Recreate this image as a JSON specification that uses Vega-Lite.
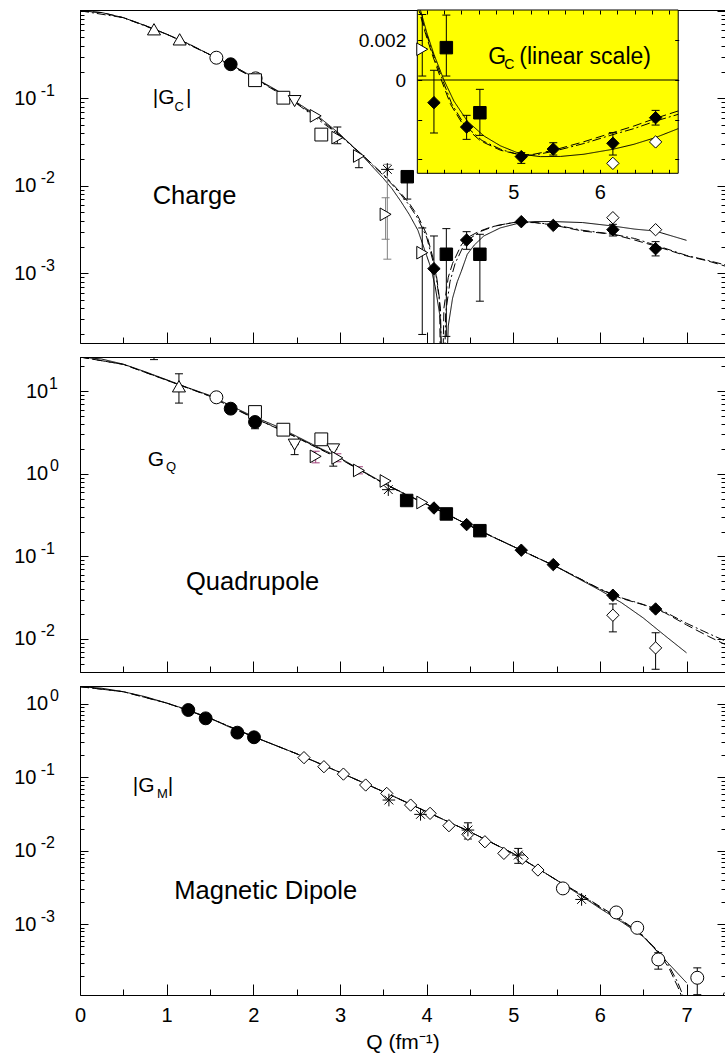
{
"$schema":"https://vega.github.io/schema/vega-lite/v6.json",
"padding":{"left":5,"top":9,"right":0,"bottom":0},
"background":"white",
"spacing":12,
"datasets":{
"p1c":[
{"Q":0,"v":1.0,"model":"solid"},{"Q":0.25,"v":0.955,"model":"solid"},{"Q":0.5,"v":0.835,"model":"solid"},{"Q":0.75,"v":0.68,"model":"solid"},{"Q":1,"v":0.54,"model":"solid"},{"Q":1.25,"v":0.42,"model":"solid"},{"Q":1.5,"v":0.315,"model":"solid"},{"Q":1.75,"v":0.24,"model":"solid"},{"Q":2,"v":0.175,"model":"solid"},{"Q":2.25,"v":0.127,"model":"solid"},{"Q":2.5,"v":0.09,"model":"solid"},{"Q":2.75,"v":0.062,"model":"solid"},{"Q":3,"v":0.039,"model":"solid"},{"Q":3.25,"v":0.0225,"model":"solid"},{"Q":3.5,"v":0.0122,"model":"solid"},{"Q":3.6,"v":0.0093,"model":"solid"},{"Q":3.7,"v":0.0067,"model":"solid"},{"Q":3.8,"v":0.0047,"model":"solid"},{"Q":3.9,"v":0.0031,"model":"solid"},{"Q":4,"v":0.0016,"model":"solid"},{"Q":4.05,"v":0.00115,"model":"solid"},{"Q":4.1,"v":0.0007,"model":"solid"},{"Q":4.16,"v":0.0003,"model":"solid"},{"Q":4.2,"v":0.00001,"model":"solid"},{"Q":4.25,"v":0.00025,"model":"solid"},{"Q":4.3,"v":0.00052,"model":"solid"},{"Q":4.354,"v":0.0008,"model":"solid"},{"Q":4.4,"v":0.00105,"model":"solid"},{"Q":4.47,"v":0.00165,"model":"solid"},{"Q":4.55,"v":0.0021,"model":"solid"},{"Q":4.66,"v":0.00267,"model":"solid"},{"Q":4.85,"v":0.0033,"model":"solid"},{"Q":5.09,"v":0.0038,"model":"solid"},{"Q":5.25,"v":0.0039,"model":"solid"},{"Q":5.46,"v":0.0039,"model":"solid"},{"Q":5.8,"v":0.0038,"model":"solid"},{"Q":6.15,"v":0.00347,"model":"solid"},{"Q":6.4,"v":0.0032,"model":"solid"},{"Q":6.64,"v":0.00304,"model":"solid"},{"Q":7,"v":0.00238,"model":"solid"},
{"Q":0,"v":1.0,"model":"dashed"},{"Q":0.25,"v":0.955,"model":"dashed"},{"Q":0.5,"v":0.835,"model":"dashed"},{"Q":0.75,"v":0.68,"model":"dashed"},{"Q":1,"v":0.54,"model":"dashed"},{"Q":1.25,"v":0.42,"model":"dashed"},{"Q":1.5,"v":0.315,"model":"dashed"},{"Q":1.75,"v":0.24,"model":"dashed"},{"Q":2,"v":0.173,"model":"dashed"},{"Q":2.25,"v":0.125,"model":"dashed"},{"Q":2.5,"v":0.088,"model":"dashed"},{"Q":2.75,"v":0.06,"model":"dashed"},{"Q":3,"v":0.038,"model":"dashed"},{"Q":3.25,"v":0.023,"model":"dashed"},{"Q":3.5,"v":0.0135,"model":"dashed"},{"Q":3.6,"v":0.0107,"model":"dashed"},{"Q":3.7,"v":0.0083,"model":"dashed"},{"Q":3.8,"v":0.0063,"model":"dashed"},{"Q":3.9,"v":0.0045,"model":"dashed"},{"Q":4,"v":0.0028,"model":"dashed"},{"Q":4.1,"v":0.0012,"model":"dashed"},{"Q":4.15,"v":0.0005,"model":"dashed"},{"Q":4.17,"v":0.00001,"model":"dashed"},{"Q":4.2,"v":0.0004,"model":"dashed"},{"Q":4.25,"v":0.0009,"model":"dashed"},{"Q":4.3,"v":0.0013,"model":"dashed"},{"Q":4.4,"v":0.0021,"model":"dashed"},{"Q":4.47,"v":0.00255,"model":"dashed"},{"Q":4.6,"v":0.003,"model":"dashed"},{"Q":4.75,"v":0.0034,"model":"dashed"},{"Q":5,"v":0.0038,"model":"dashed"},{"Q":5.25,"v":0.0038,"model":"dashed"},{"Q":5.46,"v":0.00356,"model":"dashed"},{"Q":5.8,"v":0.00304,"model":"dashed"},{"Q":6.15,"v":0.00279,"model":"dashed"},{"Q":6.4,"v":0.0024,"model":"dashed"},{"Q":6.64,"v":0.00205,"model":"dashed"},{"Q":7,"v":0.00158,"model":"dashed"},{"Q":7.25,"v":0.00138,"model":"dashed"},{"Q":7.444,"v":0.00121,"model":"dashed"},
{"Q":0,"v":1.0,"model":"dashdot"},{"Q":0.5,"v":0.835,"model":"dashdot"},{"Q":1,"v":0.54,"model":"dashdot"},{"Q":1.5,"v":0.315,"model":"dashdot"},{"Q":2,"v":0.172,"model":"dashdot"},{"Q":2.5,"v":0.087,"model":"dashdot"},{"Q":3,"v":0.0375,"model":"dashdot"},{"Q":3.25,"v":0.0228,"model":"dashdot"},{"Q":3.5,"v":0.0132,"model":"dashdot"},{"Q":3.6,"v":0.0104,"model":"dashdot"},{"Q":3.7,"v":0.008,"model":"dashdot"},{"Q":3.8,"v":0.006,"model":"dashdot"},{"Q":3.9,"v":0.0042,"model":"dashdot"},{"Q":4,"v":0.0026,"model":"dashdot"},{"Q":4.1,"v":0.0011,"model":"dashdot"},{"Q":4.16,"v":0.0004,"model":"dashdot"},{"Q":4.19,"v":0.00001,"model":"dashdot"},{"Q":4.22,"v":0.00035,"model":"dashdot"},{"Q":4.27,"v":0.0008,"model":"dashdot"},{"Q":4.33,"v":0.0013,"model":"dashdot"},{"Q":4.42,"v":0.002,"model":"dashdot"},{"Q":4.5,"v":0.0025,"model":"dashdot"},{"Q":4.62,"v":0.003,"model":"dashdot"},{"Q":4.8,"v":0.0035,"model":"dashdot"},{"Q":5,"v":0.0038,"model":"dashdot"},{"Q":5.25,"v":0.0038,"model":"dashdot"},{"Q":5.46,"v":0.0036,"model":"dashdot"},{"Q":5.8,"v":0.0031,"model":"dashdot"},{"Q":6.15,"v":0.0028,"model":"dashdot"},{"Q":6.4,"v":0.0025,"model":"dashdot"},{"Q":6.64,"v":0.0021,"model":"dashdot"},{"Q":7,"v":0.0016,"model":"dashdot"},{"Q":7.25,"v":0.0014,"model":"dashdot"},{"Q":7.444,"v":0.00125,"model":"dashdot"}
],
"p1p":[
{"Q":0.854,"v":0.615,"set":"tri_up"},{"Q":1.15,"v":0.472,"set":"tri_up"},{"Q":1.574,"v":0.291,"set":"circ_open"},{"Q":1.739,"v":0.245,"set":"circ_fill"},{"Q":2.027,"v":0.169,"set":"circ_open"},{"Q":2.02,"v":0.161,"set":"sq_open"},{"Q":2.347,"v":0.1016,"set":"sq_open"},{"Q":2.477,"v":0.093,"set":"tri_down"},{"Q":2.72,"v":0.063,"set":"tri_right"},{"Q":2.785,"v":0.0385,"set":"sq_open"},
{"Q":2.97,"v":0.0355,"set":"tri_right","lo":0.0303,"hi":0.047,"errset":"a"},
{"Q":3.219,"v":0.0219,"set":"tri_right","lo":0.0161,"hi":0.0219,"errset":"a"},
{"Q":3.547,"v":0.0154,"set":"star","lo":0.00145,"hi":0.0176,"errset":"b"},
{"Q":3.527,"v":0.00472,"set":"tri_right","lo":0.00245,"hi":0.0073,"errset":"b"},
{"Q":3.777,"v":0.0127,"set":"sq_fill","lo":0.00705,"hi":0.0127,"errset":"a"},
{"Q":3.95,"v":0.00172,"set":"tri_right","lo":0.0002,"hi":0.0033,"errset":"a"},
{"Q":4.085,"v":0.00113,"set":"dia_fill","lo":0.000001,"hi":0.00267,"errset":"a"},
{"Q":4.228,"v":0.00165,"set":"sq_fill","lo":0.00019,"hi":0.00324,"errset":"a"},
{"Q":4.462,"v":0.0024,"set":"dia_fill","lo":0.00188,"hi":0.00299,"errset":"a"},
{"Q":4.615,"v":0.00165,"set":"sq_fill","lo":0.00048,"hi":0.00279,"errset":"a"},
{"Q":5.093,"v":0.00389,"set":"dia_fill"},{"Q":5.462,"v":0.00353,"set":"dia_fill"},{"Q":6.15,"v":0.00432,"set":"dia_open"},
{"Q":6.15,"v":0.00315,"set":"dia_fill","lo":0.00267,"hi":0.00363,"errset":"a"},
{"Q":6.643,"v":0.00315,"set":"dia_open"},
{"Q":6.643,"v":0.00191,"set":"dia_fill","lo":0.00158,"hi":0.0023,"errset":"a"}
],
"p1t":[
{"Q":0.839,"v":0.0854,"txt":"|G","kind":"main"},{"Q":1.0906,"v":0.0716,"txt":"C","kind":"sub"},{"Q":1.2233,"v":0.0854,"txt":"|","kind":"main"},{"Q":0.839,"v":0.00615,"txt":"Charge","kind":"big"}
],
"inc":[
{"Q":3.893,"v":0.0040,"model":"solid"},{"Q":3.93,"v":0.00351,"model":"solid"},{"Q":4.008,"v":0.0023,"model":"solid"},{"Q":4.085,"v":0.00129,"model":"solid"},{"Q":4.2,"v":0.0,"model":"solid"},{"Q":4.315,"v":-0.00106,"model":"solid"},{"Q":4.47,"v":-0.00207,"model":"solid"},{"Q":4.662,"v":-0.00282,"model":"solid"},{"Q":4.854,"v":-0.00332,"model":"solid"},{"Q":5.092,"v":-0.00374,"model":"solid"},{"Q":5.315,"v":-0.00386,"model":"solid"},{"Q":5.546,"v":-0.00385,"model":"solid"},{"Q":5.815,"v":-0.00374,"model":"solid"},{"Q":6.15,"v":-0.00349,"model":"solid"},{"Q":6.392,"v":-0.00324,"model":"solid"},{"Q":6.642,"v":-0.0029,"model":"solid"},{"Q":6.904,"v":-0.00245,"model":"solid"},
{"Q":3.893,"v":0.0038,"model":"dashed"},{"Q":3.912,"v":0.00351,"model":"dashed"},{"Q":3.99,"v":0.0023,"model":"dashed"},{"Q":4.065,"v":0.00129,"model":"dashed"},{"Q":4.17,"v":0.0,"model":"dashed"},{"Q":4.277,"v":-0.00123,"model":"dashed"},{"Q":4.43,"v":-0.00232,"model":"dashed"},{"Q":4.623,"v":-0.00307,"model":"dashed"},{"Q":4.854,"v":-0.00354,"model":"dashed"},{"Q":5.092,"v":-0.00378,"model":"dashed"},{"Q":5.238,"v":-0.00374,"model":"dashed"},{"Q":5.462,"v":-0.00354,"model":"dashed"},{"Q":5.815,"v":-0.00311,"model":"dashed"},{"Q":6.15,"v":-0.00265,"model":"dashed"},{"Q":6.392,"v":-0.00232,"model":"dashed"},{"Q":6.642,"v":-0.00193,"model":"dashed"},{"Q":6.904,"v":-0.00156,"model":"dashed"},
{"Q":3.893,"v":0.0040,"model":"dashdot"},{"Q":3.92,"v":0.0035,"model":"dashdot"},{"Q":4.0,"v":0.0023,"model":"dashdot"},{"Q":4.075,"v":0.0013,"model":"dashdot"},{"Q":4.185,"v":0.0,"model":"dashdot"},{"Q":4.29,"v":-0.0012,"model":"dashdot"},{"Q":4.44,"v":-0.00228,"model":"dashdot"},{"Q":4.64,"v":-0.00305,"model":"dashdot"},{"Q":4.87,"v":-0.00352,"model":"dashdot"},{"Q":5.1,"v":-0.0038,"model":"dashdot"},{"Q":5.25,"v":-0.00377,"model":"dashdot"},{"Q":5.46,"v":-0.0036,"model":"dashdot"},{"Q":5.815,"v":-0.0032,"model":"dashdot"},{"Q":6.15,"v":-0.00275,"model":"dashdot"},{"Q":6.392,"v":-0.00245,"model":"dashdot"},{"Q":6.642,"v":-0.00207,"model":"dashdot"},{"Q":6.904,"v":-0.00173,"model":"dashdot"}
],
"inp":[
{"Q":3.95,"v":0.00155,"set":"tri_right","lo":0.0002,"hi":0.0033,"errset":"a"},
{"Q":4.228,"v":0.00163,"set":"sq_fill","lo":0.0002,"hi":0.00327,"errset":"a"},
{"Q":4.085,"v":-0.00114,"set":"dia_fill","lo":-0.00267,"hi":0.00049,"errset":"a"},
{"Q":4.462,"v":-0.00237,"set":"dia_fill","lo":-0.00299,"hi":-0.00178,"errset":"a"},
{"Q":4.615,"v":-0.00165,"set":"sq_fill","lo":-0.00279,"hi":-0.00047,"errset":"a"},
{"Q":5.093,"v":-0.00386,"set":"dia_fill","lo":-0.0042,"hi":-0.00366,"errset":"a"},
{"Q":5.462,"v":-0.00348,"set":"dia_fill","lo":-0.00378,"hi":-0.00316,"errset":"a"},
{"Q":6.15,"v":-0.00319,"set":"dia_fill","lo":-0.00378,"hi":-0.00265,"errset":"a"},
{"Q":6.15,"v":-0.0042,"set":"dia_open"},
{"Q":6.643,"v":-0.0019,"set":"dia_fill","lo":-0.00227,"hi":-0.00153,"errset":"a"},
{"Q":6.643,"v":-0.00312,"set":"dia_open"}
],
"int":[
{"Q":4.712,"v":0.000791,"txt":"G","kind":"main"},{"Q":4.897,"v":0.000539,"txt":"C","kind":"sub"},{"Q":5.07,"v":0.000791,"txt":"(linear scale)","kind":"main"}
],
"p2c":[
{"Q":0,"v":26.0,"model":"solid"},{"Q":0.25,"v":24.6,"model":"solid"},{"Q":0.5,"v":21.3,"model":"solid"},{"Q":0.75,"v":17.3,"model":"solid"},{"Q":1,"v":13.8,"model":"solid"},{"Q":1.25,"v":11.0,"model":"solid"},{"Q":1.5,"v":8.9,"model":"solid"},{"Q":1.75,"v":6.6,"model":"solid"},{"Q":2,"v":4.95,"model":"solid"},{"Q":2.25,"v":3.85,"model":"solid"},{"Q":2.5,"v":2.85,"model":"solid"},{"Q":2.75,"v":2.1,"model":"solid"},{"Q":3,"v":1.56,"model":"solid"},{"Q":3.25,"v":1.1,"model":"solid"},{"Q":3.5,"v":0.78,"model":"solid"},{"Q":3.75,"v":0.57,"model":"solid"},{"Q":4,"v":0.43,"model":"solid"},{"Q":4.25,"v":0.32,"model":"solid"},{"Q":4.5,"v":0.235,"model":"solid"},{"Q":4.75,"v":0.175,"model":"solid"},{"Q":5,"v":0.132,"model":"solid"},{"Q":5.25,"v":0.099,"model":"solid"},{"Q":5.5,"v":0.075,"model":"solid"},{"Q":5.75,"v":0.054,"model":"solid"},{"Q":6,"v":0.039,"model":"solid"},{"Q":6.25,"v":0.0275,"model":"solid"},{"Q":6.5,"v":0.018,"model":"solid"},{"Q":6.75,"v":0.011,"model":"solid"},{"Q":7,"v":0.0068,"model":"solid"},
{"Q":0,"v":26.0,"model":"dashed"},{"Q":0.5,"v":21.2,"model":"dashed"},{"Q":1,"v":13.6,"model":"dashed"},{"Q":1.25,"v":10.9,"model":"dashed"},{"Q":1.5,"v":8.7,"model":"dashed"},{"Q":1.75,"v":6.4,"model":"dashed"},{"Q":2,"v":4.75,"model":"dashed"},{"Q":2.25,"v":3.7,"model":"dashed"},{"Q":2.5,"v":2.75,"model":"dashed"},{"Q":2.75,"v":2.03,"model":"dashed"},{"Q":3,"v":1.52,"model":"dashed"},{"Q":3.25,"v":1.08,"model":"dashed"},{"Q":3.5,"v":0.77,"model":"dashed"},{"Q":3.75,"v":0.565,"model":"dashed"},{"Q":4,"v":0.43,"model":"dashed"},{"Q":4.25,"v":0.32,"model":"dashed"},{"Q":4.5,"v":0.235,"model":"dashed"},{"Q":4.75,"v":0.175,"model":"dashed"},{"Q":5,"v":0.132,"model":"dashed"},{"Q":5.25,"v":0.099,"model":"dashed"},{"Q":5.5,"v":0.075,"model":"dashed"},{"Q":5.75,"v":0.055,"model":"dashed"},{"Q":6,"v":0.04,"model":"dashed"},{"Q":6.25,"v":0.031,"model":"dashed"},{"Q":6.5,"v":0.026,"model":"dashed"},{"Q":6.75,"v":0.0208,"model":"dashed"},{"Q":7,"v":0.0148,"model":"dashed"},{"Q":7.25,"v":0.0108,"model":"dashed"},{"Q":7.444,"v":0.0086,"model":"dashed"},
{"Q":0,"v":26.0,"model":"dashdot"},{"Q":0.5,"v":21.2,"model":"dashdot"},{"Q":1,"v":13.7,"model":"dashdot"},{"Q":1.5,"v":8.75,"model":"dashdot"},{"Q":2,"v":4.8,"model":"dashdot"},{"Q":2.5,"v":2.78,"model":"dashdot"},{"Q":3,"v":1.53,"model":"dashdot"},{"Q":3.5,"v":0.77,"model":"dashdot"},{"Q":4,"v":0.43,"model":"dashdot"},{"Q":4.5,"v":0.235,"model":"dashdot"},{"Q":5,"v":0.132,"model":"dashdot"},{"Q":5.5,"v":0.075,"model":"dashdot"},{"Q":6,"v":0.0405,"model":"dashdot"},{"Q":6.25,"v":0.0315,"model":"dashdot"},{"Q":6.5,"v":0.0262,"model":"dashdot"},{"Q":6.75,"v":0.0213,"model":"dashdot"},{"Q":7,"v":0.0155,"model":"dashdot"},{"Q":7.25,"v":0.0117,"model":"dashdot"},{"Q":7.444,"v":0.0095,"model":"dashdot"}
],
"p2p":[
{"Q":0.854,"v":36,"set":"tri_up","lo":24.2,"hi":50,"errset":"a"},
{"Q":1.142,"v":11.5,"set":"tri_up","lo":7.2,"hi":16.3,"errset":"a"},
{"Q":1.574,"v":8.46,"set":"circ_open"},{"Q":1.739,"v":6.16,"set":"circ_fill"},{"Q":2.02,"v":5.61,"set":"sq_open"},
{"Q":2.02,"v":4.25,"set":"circ_fill","lo":3.52,"hi":4.84,"errset":"a"},
{"Q":2.347,"v":3.43,"set":"sq_open"},
{"Q":2.477,"v":2.26,"set":"tri_down","lo":1.71,"hi":2.26,"errset":"a"},
{"Q":2.72,"v":1.63,"set":"tri_right","lo":1.36,"hi":1.88,"errset":"c"},
{"Q":2.785,"v":2.62,"set":"sq_open"},
{"Q":2.923,"v":1.98,"set":"tri_down","lo":1.24,"hi":1.98,"errset":"a"},
{"Q":2.97,"v":1.56,"set":"tri_right","lo":1.4,"hi":1.75,"errset":"c"},
{"Q":3.219,"v":1.1,"set":"tri_right","lo":1.0,"hi":1.22,"errset":"c"},
{"Q":3.527,"v":0.82,"set":"tri_right"},{"Q":3.558,"v":0.644,"set":"star"},{"Q":3.77,"v":0.476,"set":"sq_fill"},{"Q":3.95,"v":0.45,"set":"tri_right"},{"Q":4.085,"v":0.386,"set":"dia_fill"},{"Q":4.228,"v":0.327,"set":"sq_fill"},{"Q":4.462,"v":0.243,"set":"dia_fill"},{"Q":4.615,"v":0.205,"set":"sq_fill"},{"Q":5.093,"v":0.119,"set":"dia_fill"},{"Q":5.462,"v":0.0796,"set":"dia_fill"},
{"Q":6.15,"v":0.0339,"set":"dia_fill","lo":0.0312,"hi":0.0362,"errset":"a"},
{"Q":6.15,"v":0.0194,"set":"dia_open","lo":0.0122,"hi":0.0266,"errset":"a"},
{"Q":6.643,"v":0.0231,"set":"dia_fill","lo":0.0216,"hi":0.0247,"errset":"a"},
{"Q":6.643,"v":0.0078,"set":"dia_open","lo":0.0043,"hi":0.0119,"errset":"a"}
],
"p2t":[
{"Q":0.781,"v":1.235,"txt":"G","kind":"main"},{"Q":0.9925,"v":1.083,"txt":"Q","kind":"sub"},{"Q":1.2233,"v":0.03868,"txt":"Quadrupole","kind":"big"}
],
"p3c":[
{"Q":0,"v":1.72,"model":"solid"},{"Q":0.25,"v":1.64,"model":"solid"},{"Q":0.5,"v":1.47,"model":"solid"},{"Q":0.75,"v":1.26,"model":"solid"},{"Q":1,"v":1.03,"model":"solid"},{"Q":1.25,"v":0.83,"model":"solid"},{"Q":1.5,"v":0.64,"model":"solid"},{"Q":1.75,"v":0.47,"model":"solid"},{"Q":2,"v":0.36,"model":"solid"},{"Q":2.25,"v":0.275,"model":"solid"},{"Q":2.5,"v":0.21,"model":"solid"},{"Q":2.75,"v":0.158,"model":"solid"},{"Q":3,"v":0.117,"model":"solid"},{"Q":3.25,"v":0.087,"model":"solid"},{"Q":3.5,"v":0.064,"model":"solid"},{"Q":3.75,"v":0.047,"model":"solid"},{"Q":4,"v":0.0341,"model":"solid"},{"Q":4.25,"v":0.0249,"model":"solid"},{"Q":4.5,"v":0.0182,"model":"solid"},{"Q":4.75,"v":0.013,"model":"solid"},{"Q":5,"v":0.0092,"model":"solid"},{"Q":5.25,"v":0.0061,"model":"solid"},{"Q":5.5,"v":0.004,"model":"solid"},{"Q":5.75,"v":0.0026,"model":"solid"},{"Q":6,"v":0.00165,"model":"solid"},{"Q":6.25,"v":0.00108,"model":"solid"},{"Q":6.5,"v":0.00068,"model":"solid"},{"Q":6.75,"v":0.00033,"model":"solid"},{"Q":7,"v":0.00016,"model":"solid"},
{"Q":0,"v":1.72,"model":"dashed"},{"Q":0.5,"v":1.47,"model":"dashed"},{"Q":1,"v":1.03,"model":"dashed"},{"Q":1.5,"v":0.64,"model":"dashed"},{"Q":2,"v":0.36,"model":"dashed"},{"Q":2.5,"v":0.21,"model":"dashed"},{"Q":3,"v":0.117,"model":"dashed"},{"Q":3.5,"v":0.064,"model":"dashed"},{"Q":4,"v":0.0341,"model":"dashed"},{"Q":4.5,"v":0.0182,"model":"dashed"},{"Q":5,"v":0.0092,"model":"dashed"},{"Q":5.5,"v":0.004,"model":"dashed"},{"Q":5.75,"v":0.0027,"model":"dashed"},{"Q":6,"v":0.00175,"model":"dashed"},{"Q":6.25,"v":0.00115,"model":"dashed"},{"Q":6.5,"v":0.0007,"model":"dashed"},{"Q":6.7,"v":0.00038,"model":"dashed"},{"Q":6.8,"v":0.00025,"model":"dashed"},{"Q":6.9,"v":0.00014,"model":"dashed"},{"Q":6.95,"v":0.0001,"model":"dashed"},{"Q":7,"v":0.00006,"model":"dashed"},{"Q":7.1,"v":0.00001,"model":"dashed"},{"Q":7.2,"v":0.000001,"model":"dashed"},{"Q":7.3,"v":0.00003,"model":"dashed"},{"Q":7.38,"v":0.00008,"model":"dashed"},{"Q":7.444,"v":0.000125,"model":"dashed"},
{"Q":0,"v":1.72,"model":"dashdot"},{"Q":0.5,"v":1.47,"model":"dashdot"},{"Q":1,"v":1.03,"model":"dashdot"},{"Q":1.5,"v":0.64,"model":"dashdot"},{"Q":2,"v":0.36,"model":"dashdot"},{"Q":2.5,"v":0.21,"model":"dashdot"},{"Q":3,"v":0.117,"model":"dashdot"},{"Q":3.5,"v":0.064,"model":"dashdot"},{"Q":4,"v":0.0341,"model":"dashdot"},{"Q":4.5,"v":0.0182,"model":"dashdot"},{"Q":5,"v":0.0092,"model":"dashdot"},{"Q":5.5,"v":0.004,"model":"dashdot"},{"Q":5.75,"v":0.00268,"model":"dashdot"},{"Q":6,"v":0.0017,"model":"dashdot"},{"Q":6.25,"v":0.00112,"model":"dashdot"},{"Q":6.5,"v":0.00069,"model":"dashdot"},{"Q":6.7,"v":0.0004,"model":"dashdot"},{"Q":6.8,"v":0.00027,"model":"dashdot"},{"Q":6.9,"v":0.00016,"model":"dashdot"},{"Q":6.97,"v":0.0001,"model":"dashdot"},{"Q":7.05,"v":0.00005,"model":"dashdot"},{"Q":7.15,"v":0.00001,"model":"dashdot"},{"Q":7.25,"v":0.000001,"model":"dashdot"},{"Q":7.35,"v":0.00003,"model":"dashdot"},{"Q":7.444,"v":0.0001,"model":"dashdot"}
],
"p3p":[
{"Q":1.25,"v":0.828,"set":"circ_fill"},{"Q":1.45,"v":0.638,"set":"circ_fill"},{"Q":1.816,"v":0.407,"set":"circ_fill"},{"Q":2.008,"v":0.352,"set":"circ_fill"},
{"Q":2.585,"v":0.186,"set":"dia_os"},{"Q":2.815,"v":0.14,"set":"dia_os"},{"Q":3.04,"v":0.111,"set":"dia_os"},{"Q":3.297,"v":0.0788,"set":"dia_os"},{"Q":3.54,"v":0.0606,"set":"dia_os"},{"Q":3.816,"v":0.042,"set":"dia_os"},{"Q":4.04,"v":0.0324,"set":"dia_os"},{"Q":4.258,"v":0.022,"set":"dia_os"},{"Q":4.477,"v":0.0168,"set":"dia_os"},{"Q":4.673,"v":0.0133,"set":"dia_os"},{"Q":4.892,"v":0.00924,"set":"dia_os"},{"Q":5.104,"v":0.0079,"set":"dia_os"},{"Q":5.285,"v":0.00548,"set":"dia_os"},
{"Q":3.565,"v":0.0492,"set":"star"},{"Q":3.93,"v":0.0314,"set":"star"},
{"Q":4.477,"v":0.0192,"set":"star","lo":0.0145,"hi":0.0241,"errset":"a"},
{"Q":5.058,"v":0.00877,"set":"star","lo":0.00676,"hi":0.0108,"errset":"a"},
{"Q":5.789,"v":0.00218,"set":"star"},
{"Q":5.573,"v":0.00308,"set":"circ_open"},{"Q":6.189,"v":0.00145,"set":"circ_open"},{"Q":6.431,"v":0.000895,"set":"circ_open"},
{"Q":6.674,"v":0.000332,"set":"circ_open","lo":0.000245,"hi":0.00041,"errset":"a"},
{"Q":7.124,"v":0.000187,"set":"circ_open","lo":0.00011,"hi":0.000255,"errset":"a"}
],
"p3t":[
{"Q":0.6082,"v":0.0639,"txt":"|G","kind":"main"},{"Q":0.8886,"v":0.0525,"txt":"M","kind":"sub"},{"Q":1.0121,"v":0.0639,"txt":"|","kind":"main"},{"Q":1.0883,"v":0.00221,"txt":"Magnetic Dipole","kind":"big"}
]
},
"vconcat":[
{
"width":645,"height":333,
"layer":[
{
"layer":[
{"data":{"name":"p1c"},"mark":{"type":"line","clip":true,"color":"black","strokeWidth":1},
"encoding":{
"x":{"field":"Q","type":"quantitative","scale":{"domain":[0,7.444],"nice":false,"zero":false},"axis":{"orient":"bottom","values":[0,0.5,1,1.5,2,2.5,3,3.5,4,4.5,5,5.5,6,6.5,7],"labels":false,"domain":false,"title":null,"tickSize":{"condition":{"test":"datum.value % 1 == 0","value":-11},"value":-6}}},
"y":{"field":"v","type":"quantitative","scale":{"type":"log","domain":[0.0001597,1.0213],"nice":false},"axis":{"orient":"left","values":[0.0002,0.0003,0.0004,0.0005,0.0006,0.0007,0.0008,0.0009,0.001,0.002,0.003,0.004,0.005,0.006,0.007,0.008,0.009,0.01,0.02,0.03,0.04,0.05,0.06,0.07,0.08,0.09,0.1,0.2,0.3,0.4,0.5,0.6,0.7,0.8,0.9,1],"labels":false,"domain":false,"title":null,"tickSize":{"condition":{"test":"indexof([0.001,0.01,0.1,1,10], datum.value) >= 0","value":-8},"value":-4}}},
"strokeDash":{"field":"model","type":"nominal","scale":{"domain":["solid","dashed","dashdot"],"range":[[1,0],[9,4],[9,3,2,3]]},"legend":null}}},
{"data":{"name":"p1p"},"transform":[{"filter":"isValid(datum.lo)"}],"mark":{"type":"rule","clip":true,"strokeWidth":1},
"encoding":{
"x":{"field":"Q","type":"quantitative","scale":{"domain":[0,7.444],"nice":false,"zero":false},"axis":null},
"y":{"field":"lo","type":"quantitative","scale":{"type":"log","domain":[0.0001597,1.0213],"nice":false},"axis":{"orient":"left","values":[0.1,0.01,0.001],"ticks":false,"domain":false,"title":null,"labelExpr":"'10'","labelFontSize":20,"labelPadding":44,"minExtent":74}},
"y2":{"field":"hi"},
"color":{"field":"errset","type":"nominal","scale":{"domain":["a","b","c"],"range":["black","#808080","#a0407a"]},"legend":null}}},
{"data":{"name":"p1p"},"transform":[{"filter":"isValid(datum.lo)"}],"mark":{"type":"tick","orient":"horizontal","size":8,"thickness":1,"clip":true,"opacity":1},
"encoding":{
"x":{"field":"Q","type":"quantitative","scale":{"domain":[0,7.444],"nice":false,"zero":false},"axis":null},
"y":{"field":"lo","type":"quantitative","scale":{"type":"log","domain":[0.0001597,1.0213],"nice":false},"axis":{"orient":"left","values":[0.1,0.01,0.001],"ticks":false,"domain":false,"title":null,"labelExpr":"datum.value == 0.1 ? '-1' : datum.value == 0.01 ? '-2' : '-3'","labelFontSize":16,"labelPadding":25.5,"labelOffset":-8}},
"color":{"field":"errset","type":"nominal","scale":{"domain":["a","b","c"],"range":["black","#808080","#a0407a"]},"legend":null}}},
{"data":{"name":"p1p"},"transform":[{"filter":"isValid(datum.lo)"}],"mark":{"type":"tick","orient":"horizontal","size":8,"thickness":1,"clip":true,"opacity":1},
"encoding":{
"x":{"field":"Q","type":"quantitative","scale":{"domain":[0,7.444],"nice":false,"zero":false},"axis":null},
"y":{"field":"hi","type":"quantitative","scale":{"type":"log","domain":[0.0001597,1.0213],"nice":false},"axis":{"orient":"right","values":[0.0002,0.0003,0.0004,0.0005,0.0006,0.0007,0.0008,0.0009,0.001,0.002,0.003,0.004,0.005,0.006,0.007,0.008,0.009,0.01,0.02,0.03,0.04,0.05,0.06,0.07,0.08,0.09,0.1,0.2,0.3,0.4,0.5,0.6,0.7,0.8,0.9,1],"labels":false,"domain":false,"title":null,"tickSize":{"condition":{"test":"indexof([0.001,0.01,0.1,1,10], datum.value) >= 0","value":-8},"value":-4}}},
"color":{"field":"errset","type":"nominal","scale":{"domain":["a","b","c"],"range":["black","#808080","#a0407a"]},"legend":null}}},
{"data":{"name":"p1p"},"mark":{"type":"point","filled":true,"stroke":"black","strokeWidth":1,"opacity":1,"clip":true},
"encoding":{
"x":{"field":"Q","type":"quantitative","scale":{"domain":[0,7.444],"nice":false,"zero":false},"axis":null},
"y":{"field":"v","type":"quantitative","scale":{"type":"log","domain":[0.0001597,1.0213],"nice":false},"axis":null},
"shape":{"field":"set","type":"nominal","scale":{"domain":["tri_up","circ_open","circ_fill","sq_open","tri_down","tri_right","star","sq_fill","dia_fill","dia_open","dia_os"],"range":["triangle-up","circle","circle","square","triangle-down","triangle-right","M-1,0L1,0M0,-1L0,1M-0.7,-0.7L0.7,0.7M-0.7,0.7L0.7,-0.7","square","diamond","diamond","diamond"]},"legend":null},
"fill":{"field":"set","type":"nominal","scale":{"domain":["tri_up","circ_open","circ_fill","sq_open","tri_down","tri_right","star","sq_fill","dia_fill","dia_open","dia_os"],"range":["white","white","black","white","white","white","black","black","black","white","white"]},"legend":null},
"size":{"field":"set","type":"ordinal","scale":{"domain":["tri_up","circ_open","circ_fill","sq_open","tri_down","tri_right","star","sq_fill","dia_fill","dia_open","dia_os"],"range":[170,150,135,110,170,170,150,115,200,170,120]},"legend":null}}},
{"data":{"name":"p1t"},"transform":[{"filter":"datum.kind == 'main'"}],"mark":{"type":"text","align":"left","baseline":"alphabetic","fontSize":21,"font":"Liberation Sans","color":"black"},
"encoding":{"x":{"field":"Q","type":"quantitative","scale":{"domain":[0,7.444],"nice":false,"zero":false},"axis":null},"y":{"field":"v","type":"quantitative","scale":{"type":"log","domain":[0.0001597,1.0213],"nice":false},"axis":null},"text":{"field":"txt"}}},
{"data":{"name":"p1t"},"transform":[{"filter":"datum.kind == 'sub'"}],"mark":{"type":"text","align":"left","baseline":"alphabetic","fontSize":13,"font":"Liberation Sans","color":"black"},
"encoding":{"x":{"field":"Q","type":"quantitative","scale":{"domain":[0,7.444],"nice":false,"zero":false},"axis":null},"y":{"field":"v","type":"quantitative","scale":{"type":"log","domain":[0.0001597,1.0213],"nice":false},"axis":null},"text":{"field":"txt"}}},
{"data":{"name":"p1t"},"transform":[{"filter":"datum.kind == 'big'"}],"mark":{"type":"text","align":"left","baseline":"alphabetic","fontSize":25.5,"font":"Liberation Sans","color":"black"},
"encoding":{"x":{"field":"Q","type":"quantitative","scale":{"domain":[0,7.444],"nice":false,"zero":false},"axis":null},"y":{"field":"v","type":"quantitative","scale":{"type":"log","domain":[0.0001597,1.0213],"nice":false},"axis":null},"text":{"field":"txt"}}}
],
"resolve":{"axis":{"x":"independent","y":"independent"}}
},
{
"layer":[
{"data":{"values":[{}]},"mark":{"type":"rect","fill":"#ffff00","stroke":"black","strokeWidth":1},
"encoding":{
"x":{"datum":3.893,"type":"quantitative","scale":{"domain":[0,7.444],"nice":false,"zero":false},"axis":{"orient":"bottom","offset":-169.7,"values":[4,4.2,4.4,4.6,4.8,5,5.2,5.4,5.6,5.8,6,6.2,6.4,6.6,6.8],"labels":false,"domain":false,"title":null,"tickSize":-4,"zindex":2}},
"x2":{"datum":6.904},
"y":{"datum":-0.0047,"type":"quantitative","scale":{"domain":[-0.013249,0.0035264],"nice":false,"zero":false},"axis":{"orient":"left","offset":-337.7,"values":[-0.004,-0.002,0,0.002],"labels":false,"domain":false,"title":null,"tickSize":-4,"zindex":2}},
"y2":{"datum":0.0035264}}},
{"data":{"values":[{}]},"mark":{"type":"rule","color":"black","strokeWidth":1},
"encoding":{
"x":{"datum":3.893,"type":"quantitative","scale":{"domain":[0,7.444],"nice":false,"zero":false},"axis":{"orient":"top","offset":0,"values":[4,4.2,4.4,4.6,4.8,5,5.2,5.4,5.6,5.8,6,6.2,6.4,6.6,6.8],"labels":false,"domain":false,"title":null,"tickSize":-4,"zindex":2}},
"x2":{"datum":6.904},
"y":{"datum":0,"type":"quantitative","scale":{"domain":[-0.013249,0.0035264],"nice":false,"zero":false},"axis":{"orient":"right","offset":-46.3,"values":[-0.004,-0.002,0,0.002],"labels":false,"domain":false,"title":null,"tickSize":-4,"zindex":2}}}},
{"data":{"name":"inc"},"mark":{"type":"line","clip":true,"color":"black","strokeWidth":1},
"encoding":{
"x":{"field":"Q","type":"quantitative","scale":{"domain":[0,7.444],"nice":false,"zero":false},"axis":{"orient":"bottom","offset":-169.7,"values":[5,6],"ticks":false,"domain":false,"title":null,"format":"d","labelPadding":9,"labelFontSize":20,"zindex":2}},
"y":{"field":"v","type":"quantitative","scale":{"domain":[-0.013249,0.0035264],"nice":false,"zero":false},"axis":{"orient":"left","offset":-337.7,"values":[0,0.002],"ticks":false,"domain":false,"title":null,"labelExpr":"datum.value == 0 ? '0' : '0.002'","labelPadding":12,"zindex":2}},
"strokeDash":{"field":"model","type":"nominal","scale":{"domain":["solid","dashed","dashdot"],"range":[[1,0],[9,4],[9,3,2,3]]},"legend":null}}},
{"data":{"name":"inp"},"transform":[{"filter":"isValid(datum.lo)"}],"mark":{"type":"rule","clip":true,"strokeWidth":1},
"encoding":{
"x":{"field":"Q","type":"quantitative","scale":{"domain":[0,7.444],"nice":false,"zero":false},"axis":null},
"y":{"field":"lo","type":"quantitative","scale":{"domain":[-0.013249,0.0035264],"nice":false,"zero":false},"axis":null},
"y2":{"field":"hi"},
"color":{"field":"errset","type":"nominal","scale":{"domain":["a","b","c"],"range":["black","#808080","#a0407a"]},"legend":null}}},
{"data":{"name":"inp"},"transform":[{"filter":"isValid(datum.lo)"}],"mark":{"type":"tick","orient":"horizontal","size":8,"thickness":1,"clip":true,"opacity":1},
"encoding":{
"x":{"field":"Q","type":"quantitative","scale":{"domain":[0,7.444],"nice":false,"zero":false},"axis":null},
"y":{"field":"lo","type":"quantitative","scale":{"domain":[-0.013249,0.0035264],"nice":false,"zero":false},"axis":null},
"color":{"field":"errset","type":"nominal","scale":{"domain":["a","b","c"],"range":["black","#808080","#a0407a"]},"legend":null}}},
{"data":{"name":"inp"},"transform":[{"filter":"isValid(datum.lo)"}],"mark":{"type":"tick","orient":"horizontal","size":8,"thickness":1,"clip":true,"opacity":1},
"encoding":{
"x":{"field":"Q","type":"quantitative","scale":{"domain":[0,7.444],"nice":false,"zero":false},"axis":null},
"y":{"field":"hi","type":"quantitative","scale":{"domain":[-0.013249,0.0035264],"nice":false,"zero":false},"axis":null},
"color":{"field":"errset","type":"nominal","scale":{"domain":["a","b","c"],"range":["black","#808080","#a0407a"]},"legend":null}}},
{"data":{"name":"inp"},"mark":{"type":"point","filled":true,"stroke":"black","strokeWidth":1,"opacity":1,"clip":true},
"encoding":{
"x":{"field":"Q","type":"quantitative","scale":{"domain":[0,7.444],"nice":false,"zero":false},"axis":null},
"y":{"field":"v","type":"quantitative","scale":{"domain":[-0.013249,0.0035264],"nice":false,"zero":false},"axis":null},
"shape":{"field":"set","type":"nominal","scale":{"domain":["tri_up","circ_open","circ_fill","sq_open","tri_down","tri_right","star","sq_fill","dia_fill","dia_open","dia_os"],"range":["triangle-up","circle","circle","square","triangle-down","triangle-right","M-1,0L1,0M0,-1L0,1M-0.7,-0.7L0.7,0.7M-0.7,0.7L0.7,-0.7","square","diamond","diamond","diamond"]},"legend":null},
"fill":{"field":"set","type":"nominal","scale":{"domain":["tri_up","circ_open","circ_fill","sq_open","tri_down","tri_right","star","sq_fill","dia_fill","dia_open","dia_os"],"range":["white","white","black","white","white","white","black","black","black","white","white"]},"legend":null},
"size":{"field":"set","type":"ordinal","scale":{"domain":["tri_up","circ_open","circ_fill","sq_open","tri_down","tri_right","star","sq_fill","dia_fill","dia_open","dia_os"],"range":[170,150,135,110,170,170,150,115,200,170,120]},"legend":null}}},
{"data":{"name":"int"},"transform":[{"filter":"datum.kind == 'main'"}],"mark":{"type":"text","align":"left","baseline":"alphabetic","fontSize":23,"font":"Liberation Sans","color":"black"},
"encoding":{"x":{"field":"Q","type":"quantitative","scale":{"domain":[0,7.444],"nice":false,"zero":false},"axis":null},"y":{"field":"v","type":"quantitative","scale":{"domain":[-0.013249,0.0035264],"nice":false,"zero":false},"axis":null},"text":{"field":"txt"}}},
{"data":{"name":"int"},"transform":[{"filter":"datum.kind == 'sub'"}],"mark":{"type":"text","align":"left","baseline":"alphabetic","fontSize":14,"font":"Liberation Sans","color":"black"},
"encoding":{"x":{"field":"Q","type":"quantitative","scale":{"domain":[0,7.444],"nice":false,"zero":false},"axis":null},"y":{"field":"v","type":"quantitative","scale":{"domain":[-0.013249,0.0035264],"nice":false,"zero":false},"axis":null},"text":{"field":"txt"}}}
],
"resolve":{"axis":{"x":"independent","y":"independent"}}
}
],
"resolve":{"scale":{"y":"independent"},"axis":{"x":"independent","y":"independent"}}
},
{
"width":645,"height":315,
"layer":[
{"data":{"name":"p2c"},"mark":{"type":"line","clip":true,"color":"black","strokeWidth":1},
"encoding":{
"x":{"field":"Q","type":"quantitative","scale":{"domain":[0,7.444],"nice":false,"zero":false},"axis":{"orient":"bottom","values":[0,0.5,1,1.5,2,2.5,3,3.5,4,4.5,5,5.5,6,6.5,7],"labels":false,"domain":false,"title":null,"tickSize":{"condition":{"test":"datum.value % 1 == 0","value":-11},"value":-6}}},
"y":{"field":"v","type":"quantitative","scale":{"type":"log","domain":[0.003983,26.03],"nice":false},"axis":{"orient":"left","values":[0.004,0.005,0.006,0.007,0.008,0.009,0.01,0.02,0.03,0.04,0.05,0.06,0.07,0.08,0.09,0.1,0.2,0.3,0.4,0.5,0.6,0.7,0.8,0.9,1,2,3,4,5,6,7,8,9,10,20],"labels":false,"domain":false,"title":null,"tickSize":{"condition":{"test":"indexof([0.001,0.01,0.1,1,10], datum.value) >= 0","value":-8},"value":-4}}},
"strokeDash":{"field":"model","type":"nominal","scale":{"domain":["solid","dashed","dashdot"],"range":[[1,0],[9,4],[9,3,2,3]]},"legend":null}}},
{"data":{"name":"p2p"},"transform":[{"filter":"isValid(datum.lo)"}],"mark":{"type":"rule","clip":true,"strokeWidth":1},
"encoding":{
"x":{"field":"Q","type":"quantitative","scale":{"domain":[0,7.444],"nice":false,"zero":false},"axis":null},
"y":{"field":"lo","type":"quantitative","scale":{"type":"log","domain":[0.003983,26.03],"nice":false},"axis":{"orient":"left","values":[10,1,0.1,0.01],"ticks":false,"domain":false,"title":null,"labelExpr":"'10'","labelFontSize":20,"labelPadding":{"condition":{"test":"datum.value >= 1","value":32.3},"value":44},"minExtent":74}},
"y2":{"field":"hi"},
"color":{"field":"errset","type":"nominal","scale":{"domain":["a","b","c"],"range":["black","#808080","#a0407a"]},"legend":null}}},
{"data":{"name":"p2p"},"transform":[{"filter":"isValid(datum.lo)"}],"mark":{"type":"tick","orient":"horizontal","size":8,"thickness":1,"clip":true,"opacity":1},
"encoding":{
"x":{"field":"Q","type":"quantitative","scale":{"domain":[0,7.444],"nice":false,"zero":false},"axis":null},
"y":{"field":"lo","type":"quantitative","scale":{"type":"log","domain":[0.003983,26.03],"nice":false},"axis":{"orient":"left","values":[10,1,0.1,0.01],"ticks":false,"domain":false,"title":null,"labelExpr":"datum.value == 10 ? '1' : datum.value == 1 ? '0' : datum.value == 0.1 ? '-1' : '-2'","labelFontSize":16,"labelPadding":{"condition":[{"test":"datum.value == 10","value":22.5},{"test":"datum.value == 1","value":21.5}],"value":25.5},"labelOffset":-8}},
"color":{"field":"errset","type":"nominal","scale":{"domain":["a","b","c"],"range":["black","#808080","#a0407a"]},"legend":null}}},
{"data":{"name":"p2p"},"transform":[{"filter":"isValid(datum.lo)"}],"mark":{"type":"tick","orient":"horizontal","size":8,"thickness":1,"clip":true,"opacity":1},
"encoding":{
"x":{"field":"Q","type":"quantitative","scale":{"domain":[0,7.444],"nice":false,"zero":false},"axis":null},
"y":{"field":"hi","type":"quantitative","scale":{"type":"log","domain":[0.003983,26.03],"nice":false},"axis":{"orient":"right","values":[0.004,0.005,0.006,0.007,0.008,0.009,0.01,0.02,0.03,0.04,0.05,0.06,0.07,0.08,0.09,0.1,0.2,0.3,0.4,0.5,0.6,0.7,0.8,0.9,1,2,3,4,5,6,7,8,9,10,20],"labels":false,"domain":false,"title":null,"tickSize":{"condition":{"test":"indexof([0.001,0.01,0.1,1,10], datum.value) >= 0","value":-8},"value":-4}}},
"color":{"field":"errset","type":"nominal","scale":{"domain":["a","b","c"],"range":["black","#808080","#a0407a"]},"legend":null}}},
{"data":{"name":"p2p"},"mark":{"type":"point","filled":true,"stroke":"black","strokeWidth":1,"opacity":1,"clip":true},
"encoding":{
"x":{"field":"Q","type":"quantitative","scale":{"domain":[0,7.444],"nice":false,"zero":false},"axis":null},
"y":{"field":"v","type":"quantitative","scale":{"type":"log","domain":[0.003983,26.03],"nice":false},"axis":null},
"shape":{"field":"set","type":"nominal","scale":{"domain":["tri_up","circ_open","circ_fill","sq_open","tri_down","tri_right","star","sq_fill","dia_fill","dia_open","dia_os"],"range":["triangle-up","circle","circle","square","triangle-down","triangle-right","M-1,0L1,0M0,-1L0,1M-0.7,-0.7L0.7,0.7M-0.7,0.7L0.7,-0.7","square","diamond","diamond","diamond"]},"legend":null},
"fill":{"field":"set","type":"nominal","scale":{"domain":["tri_up","circ_open","circ_fill","sq_open","tri_down","tri_right","star","sq_fill","dia_fill","dia_open","dia_os"],"range":["white","white","black","white","white","white","black","black","black","white","white"]},"legend":null},
"size":{"field":"set","type":"ordinal","scale":{"domain":["tri_up","circ_open","circ_fill","sq_open","tri_down","tri_right","star","sq_fill","dia_fill","dia_open","dia_os"],"range":[170,150,135,110,170,170,150,115,200,170,120]},"legend":null}}},
{"data":{"name":"p2t"},"transform":[{"filter":"datum.kind == 'main'"}],"mark":{"type":"text","align":"left","baseline":"alphabetic","fontSize":21,"font":"Liberation Sans","color":"black"},
"encoding":{"x":{"field":"Q","type":"quantitative","scale":{"domain":[0,7.444],"nice":false,"zero":false},"axis":null},"y":{"field":"v","type":"quantitative","scale":{"type":"log","domain":[0.003983,26.03],"nice":false},"axis":null},"text":{"field":"txt"}}},
{"data":{"name":"p2t"},"transform":[{"filter":"datum.kind == 'sub'"}],"mark":{"type":"text","align":"left","baseline":"alphabetic","fontSize":13,"font":"Liberation Sans","color":"black"},
"encoding":{"x":{"field":"Q","type":"quantitative","scale":{"domain":[0,7.444],"nice":false,"zero":false},"axis":null},"y":{"field":"v","type":"quantitative","scale":{"type":"log","domain":[0.003983,26.03],"nice":false},"axis":null},"text":{"field":"txt"}}},
{"data":{"name":"p2t"},"transform":[{"filter":"datum.kind == 'big'"}],"mark":{"type":"text","align":"left","baseline":"alphabetic","fontSize":25.5,"font":"Liberation Sans","color":"black"},
"encoding":{"x":{"field":"Q","type":"quantitative","scale":{"domain":[0,7.444],"nice":false,"zero":false},"axis":null},"y":{"field":"v","type":"quantitative","scale":{"type":"log","domain":[0.003983,26.03],"nice":false},"axis":null},"text":{"field":"txt"}}}
],
"resolve":{"axis":{"x":"independent","y":"independent"}}
},
{
"width":645,"height":309,
"layer":[
{"data":{"name":"p3c"},"mark":{"type":"line","clip":true,"color":"black","strokeWidth":1},
"encoding":{
"x":{"field":"Q","type":"quantitative","scale":{"domain":[0,7.444],"nice":false,"zero":false},"axis":{"orient":"bottom","values":[0,0.5,1,1.5,2,2.5,3,3.5,4,4.5,5,5.5,6,6.5,7],"labels":false,"domain":false,"title":null,"tickSize":{"condition":{"test":"datum.value % 1 == 0","value":-11},"value":-6}}},
"y":{"field":"v","type":"quantitative","scale":{"type":"log","domain":[0.0001089,1.758],"nice":false},"axis":{"orient":"left","values":[0.0002,0.0003,0.0004,0.0005,0.0006,0.0007,0.0008,0.0009,0.001,0.002,0.003,0.004,0.005,0.006,0.007,0.008,0.009,0.01,0.02,0.03,0.04,0.05,0.06,0.07,0.08,0.09,0.1,0.2,0.3,0.4,0.5,0.6,0.7,0.8,0.9,1],"labels":false,"domain":false,"title":null,"tickSize":{"condition":{"test":"indexof([0.001,0.01,0.1,1,10], datum.value) >= 0","value":-8},"value":-4}}},
"strokeDash":{"field":"model","type":"nominal","scale":{"domain":["solid","dashed","dashdot"],"range":[[1,0],[9,4],[9,3,2,3]]},"legend":null}}},
{"data":{"name":"p3p"},"transform":[{"filter":"isValid(datum.lo)"}],"mark":{"type":"rule","clip":true,"strokeWidth":1},
"encoding":{
"x":{"field":"Q","type":"quantitative","scale":{"domain":[0,7.444],"nice":false,"zero":false},"axis":{"orient":"bottom","values":[0,1,2,3,4,5,6,7],"ticks":false,"domain":false,"format":"d","labelPadding":10,"labelFontSize":20,"title":"Q (fm⁻¹)","titleFontSize":21,"titlePadding":6}},
"y":{"field":"lo","type":"quantitative","scale":{"type":"log","domain":[0.0001089,1.758],"nice":false},"axis":{"orient":"left","values":[1,0.1,0.01,0.001],"ticks":false,"domain":false,"title":null,"labelExpr":"'10'","labelFontSize":20,"labelPadding":{"condition":{"test":"datum.value >= 1","value":32.3},"value":44},"minExtent":74}},
"y2":{"field":"hi"},
"color":{"field":"errset","type":"nominal","scale":{"domain":["a","b","c"],"range":["black","#808080","#a0407a"]},"legend":null}}},
{"data":{"name":"p3p"},"transform":[{"filter":"isValid(datum.lo)"}],"mark":{"type":"tick","orient":"horizontal","size":8,"thickness":1,"clip":true,"opacity":1},
"encoding":{
"x":{"field":"Q","type":"quantitative","scale":{"domain":[0,7.444],"nice":false,"zero":false},"axis":null},
"y":{"field":"lo","type":"quantitative","scale":{"type":"log","domain":[0.0001089,1.758],"nice":false},"axis":{"orient":"left","values":[1,0.1,0.01,0.001],"ticks":false,"domain":false,"title":null,"labelExpr":"datum.value == 1 ? '0' : datum.value == 0.1 ? '-1' : datum.value == 0.01 ? '-2' : '-3'","labelFontSize":16,"labelPadding":{"condition":{"test":"datum.value == 1","value":21.5},"value":25.5},"labelOffset":-8}},
"color":{"field":"errset","type":"nominal","scale":{"domain":["a","b","c"],"range":["black","#808080","#a0407a"]},"legend":null}}},
{"data":{"name":"p3p"},"transform":[{"filter":"isValid(datum.lo)"}],"mark":{"type":"tick","orient":"horizontal","size":8,"thickness":1,"clip":true,"opacity":1},
"encoding":{
"x":{"field":"Q","type":"quantitative","scale":{"domain":[0,7.444],"nice":false,"zero":false},"axis":null},
"y":{"field":"hi","type":"quantitative","scale":{"type":"log","domain":[0.0001089,1.758],"nice":false},"axis":{"orient":"right","values":[0.0002,0.0003,0.0004,0.0005,0.0006,0.0007,0.0008,0.0009,0.001,0.002,0.003,0.004,0.005,0.006,0.007,0.008,0.009,0.01,0.02,0.03,0.04,0.05,0.06,0.07,0.08,0.09,0.1,0.2,0.3,0.4,0.5,0.6,0.7,0.8,0.9,1],"labels":false,"domain":false,"title":null,"tickSize":{"condition":{"test":"indexof([0.001,0.01,0.1,1,10], datum.value) >= 0","value":-8},"value":-4}}},
"color":{"field":"errset","type":"nominal","scale":{"domain":["a","b","c"],"range":["black","#808080","#a0407a"]},"legend":null}}},
{"data":{"name":"p3p"},"mark":{"type":"point","filled":true,"stroke":"black","strokeWidth":1,"opacity":1,"clip":true},
"encoding":{
"x":{"field":"Q","type":"quantitative","scale":{"domain":[0,7.444],"nice":false,"zero":false},"axis":null},
"y":{"field":"v","type":"quantitative","scale":{"type":"log","domain":[0.0001089,1.758],"nice":false},"axis":null},
"shape":{"field":"set","type":"nominal","scale":{"domain":["tri_up","circ_open","circ_fill","sq_open","tri_down","tri_right","star","sq_fill","dia_fill","dia_open","dia_os"],"range":["triangle-up","circle","circle","square","triangle-down","triangle-right","M-1,0L1,0M0,-1L0,1M-0.7,-0.7L0.7,0.7M-0.7,0.7L0.7,-0.7","square","diamond","diamond","diamond"]},"legend":null},
"fill":{"field":"set","type":"nominal","scale":{"domain":["tri_up","circ_open","circ_fill","sq_open","tri_down","tri_right","star","sq_fill","dia_fill","dia_open","dia_os"],"range":["white","white","black","white","white","white","black","black","black","white","white"]},"legend":null},
"size":{"field":"set","type":"ordinal","scale":{"domain":["tri_up","circ_open","circ_fill","sq_open","tri_down","tri_right","star","sq_fill","dia_fill","dia_open","dia_os"],"range":[170,150,135,110,170,170,150,115,200,170,120]},"legend":null}}},
{"data":{"name":"p3t"},"transform":[{"filter":"datum.kind == 'main'"}],"mark":{"type":"text","align":"left","baseline":"alphabetic","fontSize":21,"font":"Liberation Sans","color":"black"},
"encoding":{"x":{"field":"Q","type":"quantitative","scale":{"domain":[0,7.444],"nice":false,"zero":false},"axis":null},"y":{"field":"v","type":"quantitative","scale":{"type":"log","domain":[0.0001089,1.758],"nice":false},"axis":null},"text":{"field":"txt"}}},
{"data":{"name":"p3t"},"transform":[{"filter":"datum.kind == 'sub'"}],"mark":{"type":"text","align":"left","baseline":"alphabetic","fontSize":13,"font":"Liberation Sans","color":"black"},
"encoding":{"x":{"field":"Q","type":"quantitative","scale":{"domain":[0,7.444],"nice":false,"zero":false},"axis":null},"y":{"field":"v","type":"quantitative","scale":{"type":"log","domain":[0.0001089,1.758],"nice":false},"axis":null},"text":{"field":"txt"}}},
{"data":{"name":"p3t"},"transform":[{"filter":"datum.kind == 'big'"}],"mark":{"type":"text","align":"left","baseline":"alphabetic","fontSize":25.5,"font":"Liberation Sans","color":"black"},
"encoding":{"x":{"field":"Q","type":"quantitative","scale":{"domain":[0,7.444],"nice":false,"zero":false},"axis":null},"y":{"field":"v","type":"quantitative","scale":{"type":"log","domain":[0.0001089,1.758],"nice":false},"axis":null},"text":{"field":"txt"}}}
],
"resolve":{"axis":{"x":"independent","y":"independent"}}
}
],
"resolve":{"scale":{"x":"independent","y":"independent"},"axis":{"x":"independent","y":"independent"}},
"config":{
"font":"Liberation Sans",
"view":{"stroke":"black","strokeWidth":1},
"axis":{"grid":false,"domain":false,"labelFlush":false,"labelOverlap":false,"labelBound":false,"tickColor":"black","tickWidth":1,"labelColor":"black","labelFont":"Liberation Sans","labelFontSize":19,"titleFont":"Liberation Sans","titleFontSize":19,"titleFontWeight":"normal","titleColor":"black"}
}
}
